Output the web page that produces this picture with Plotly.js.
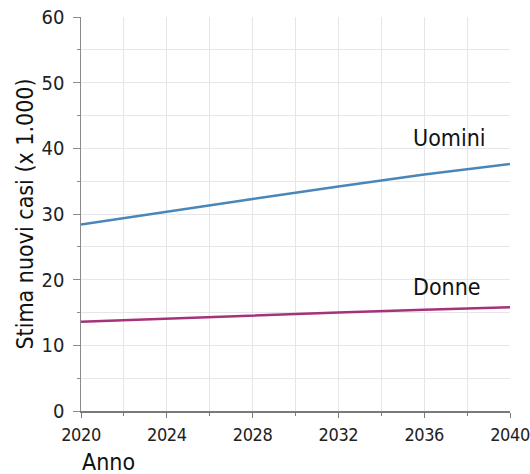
<!DOCTYPE html>
<html><head><meta charset="utf-8">
<script src="https://cdn.plot.ly/plotly-3.0.1.min.js"></script>
<style>body{margin:0;background:#fff}#c{width:530px;height:474px}
.xtick text{letter-spacing:-0.4px}</style>
</head><body><div id="c"></div>
<script>
const years = [2020, 2024, 2028, 2032, 2036, 2040];
const uomini = [28.4, 30.4, 32.3, 34.2, 36.0, 37.6];
const donne = [13.6, 14.1, 14.6, 15.0, 15.4, 15.8];
const seriesNames = ["Uomini", "Donne"];
const xTicks = [2020, 2024, 2028, 2032, 2036, 2040];
const yTicks = [0, 10, 20, 30, 40, 50, 60];

const font = "'DejaVu Sans Condensed', 'DejaVu Sans', sans-serif";
const traces = [
  {x: years, y: uomini, mode: "lines", name: seriesNames[0], line: {color: "#4a86b9", width: 2.5}},
  {x: years, y: donne, mode: "lines", name: seriesNames[1], line: {color: "#a6327a", width: 2.5}}
];
const layout = {
  width: 530, height: 474,
  margin: {l: 81, r: 20, t: 17, b: 63},
  showlegend: false,
  paper_bgcolor: "#fff", plot_bgcolor: "#fff",
  font: {family: font, color: "#222", size: 19},
  xaxis: {
    range: [2020, 2040], tickvals: xTicks, ticktext: xTicks.map(String),
    showgrid: true, gridcolor: "#e6e6ea", gridwidth: 1,
    showline: true, linecolor: "#7a7a7a", linewidth: 2,
    ticks: "outside", ticklen: 5, tickcolor: "#7a7a7a",
    minor: {dtick: 2, tick0: 2020, showgrid: true, gridcolor: "#e6e6ea", ticks: "outside", ticklen: 3, tickcolor: "#7a7a7a"},
    zeroline: false, tickfont: {size: 18, family: font, color: "#222"},
    ticklabelstandoff: 1, ticklabeloverflow: "allow"
  },
  yaxis: {
    range: [0, 60], tickvals: yTicks, ticktext: yTicks.map(String),
    showgrid: true, gridcolor: "#e6e6ea", gridwidth: 1,
    showline: true, linecolor: "#8a8a8a", linewidth: 1.5,
    ticks: "outside", ticklen: 7, tickcolor: "#8a8a8a",
    minor: {dtick: 5, tick0: 0, showgrid: true, gridcolor: "#e6e6ea", ticks: "outside", ticklen: 3, tickcolor: "#8a8a8a"},
    zeroline: false, tickfont: {size: 20, family: font, color: "#222"},
    ticklabelstandoff: 4, ticklabeloverflow: "allow",
    title: {text: "Stima nuovi casi (x 1.000)", font: {size: 23, family: font, color: "#111"}, standoff: 1}
  },
  annotations: [
    {x: 2037.2, y: 41.6, xref: "x", yref: "y", text: seriesNames[0], showarrow: false, xanchor: "center", yanchor: "middle", font: {size: 23, family: font, color: "#111"}},
    {x: 2037.05, y: 18.9, xref: "x", yref: "y", text: seriesNames[1], showarrow: false, xanchor: "center", yanchor: "middle", font: {size: 23, family: font, color: "#111"}},
    {x: 0, y: 0, xref: "paper", yref: "paper", yshift: -51, xshift: -1, text: "Anno", showarrow: false, xanchor: "left", yanchor: "middle", font: {size: 23, family: font, color: "#111"}}
  ]
};
Plotly.newPlot("c", traces, layout, {displayModeBar: false, staticPlot: true});
</script></body></html>
